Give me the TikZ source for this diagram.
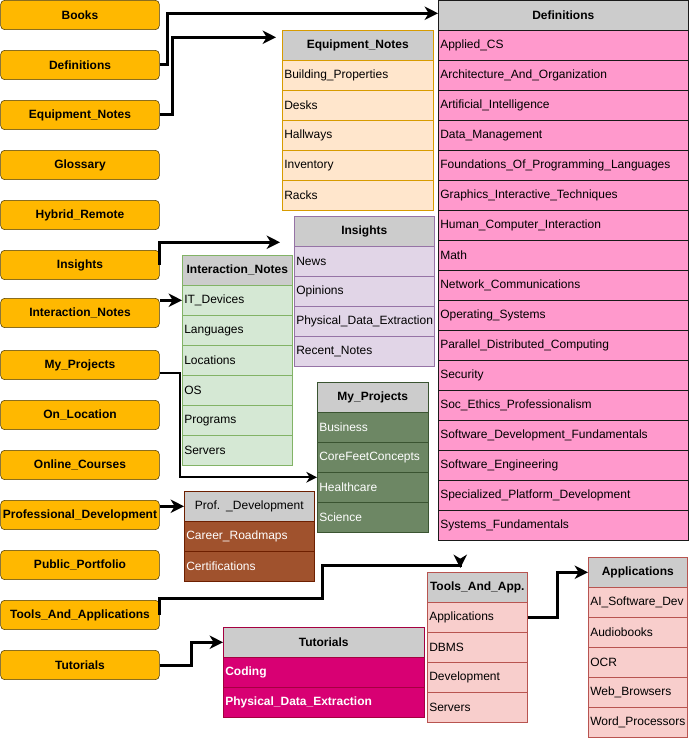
\documentclass[tikz,border=0pt]{standalone}
\usepackage{fontspec}
\setmainfont{Liberation Sans}
\usetikzlibrary{arrows.meta}

\definecolor{amber}{HTML}{FFB800}
\definecolor{amberline}{HTML}{4D3A00}
\definecolor{headgrey}{HTML}{CCCCCC}
\definecolor{defpink}{HTML}{FF99CC}
\definecolor{defline}{HTML}{1A1A1A}
\definecolor{eqfill}{HTML}{FFE6CC}
\definecolor{eqline}{HTML}{D79B00}
\definecolor{insfill}{HTML}{E1D5E7}
\definecolor{insline}{HTML}{9673A6}
\definecolor{intfill}{HTML}{D5E8D4}
\definecolor{intline}{HTML}{82B366}
\definecolor{mpfill}{HTML}{6D8764}
\definecolor{mpline}{HTML}{3A5431}
\definecolor{pdfill}{HTML}{A0522D}
\definecolor{pdline}{HTML}{6D1F00}
\definecolor{tufill}{HTML}{D80073}
\definecolor{tuline}{HTML}{A50040}
\definecolor{tafill}{HTML}{F8CECC}
\definecolor{taline}{HTML}{B85450}

\tikzset{
  topic/.style={draw=amberline, fill=amber, rounded corners=3pt, minimum width=119pt,
    minimum height=22pt, inner sep=0pt, font=\fontsize{9}{11}\selectfont\bfseries},
  tblcell/.style={draw, anchor=north west, minimum height=22.5pt, inner xsep=1.5pt,
    inner ysep=0pt, align=left, font=\fontsize{9}{11}\selectfont},
  tblhead/.style={tblcell, fill=headgrey, align=center, font=\fontsize{9}{11}\selectfont\bfseries},
  link/.style={draw, line width=2.25pt, -{Stealth[length=10pt, width=10pt, inset=3pt]}},
  defhead/.style={tblhead, draw=defline, text width=184.5pt},
  defrow/.style={tblcell, draw=defline, fill=defpink, text width=184.5pt},
  eqhead/.style={tblhead, draw=eqline, text width=110.25pt},
  eqrow/.style={tblcell, draw=eqline, fill=eqfill, text width=110.25pt},
  inshead/.style={tblhead, draw=insline, text width=102pt},
  insrow/.style={tblcell, draw=insline, fill=insfill, text width=102pt},
  inthead/.style={tblhead, draw=intline, text width=79.5pt},
  introw/.style={tblcell, draw=intline, fill=intfill, text width=79.5pt},
  mphead/.style={tblhead, draw=mpline, text width=80.25pt},
  mprow/.style={tblcell, draw=mpline, fill=mpfill, text=white, text width=80.25pt},
  pdhead/.style={tblhead, draw=pdline, text width=94.5pt, font=\fontsize{9}{11}\selectfont},
  pdrow/.style={tblcell, draw=pdline, fill=pdfill, text=white, text width=94.5pt},
  tuhead/.style={tblhead, draw=tuline, text width=147.75pt},
  turow/.style={tblcell, draw=tuline, fill=tufill, text=white, text width=147.75pt,
    font=\fontsize{9}{11}\selectfont\bfseries},
  tahead/.style={tblhead, draw=taline, text width=72pt},
  tarow/.style={tblcell, draw=taline, fill=tafill, text width=72pt},
  aphead/.style={tblhead, draw=taline, text width=71.25pt},
  aprow/.style={tblcell, draw=taline, fill=tafill, text width=71.25pt},
}

\begin{document}
\begin{tikzpicture}[x=0.75pt, y=-0.75pt]
\useasboundingbox (0,0) rectangle (689,738);

% topics
\node[topic] (books) at (80,15) {Books};
\node[topic] (defs) at (80,65) {Definitions};
\node[topic] (equip) at (80,115) {Equipment\_Notes};
\node[topic] (gloss) at (80,165) {Glossary};
\node[topic] (hybrid) at (80,215) {Hybrid\_Remote};
\node[topic] (insight) at (80,265) {Insights};
\node[topic] (inter) at (80,313) {Interaction\_Notes};
\node[topic] (myproj) at (80,365) {My\_Projects};
\node[topic] (onloc) at (80,415) {On\_Location};
\node[topic] (online) at (80,465) {Online\_Courses};
\node[topic] (profdev) at (80,515) {Professional\_Development};
\node[topic] (public) at (80,565) {Public\_Portfolio};
\node[topic] (tools) at (80,615) {Tools\_And\_Applications};
\node[topic] (tut) at (80,665) {Tutorials};

% Definitions
\node[defhead] (defH) at (438,0) {Definitions};
\node[defrow] (def1) at (438,30) {Applied\_CS};
\node[defrow] (def2) at (438,60) {Architecture\_And\_Organization};
\node[defrow] (def3) at (438,90) {Artificial\_Intelligence};
\node[defrow] (def4) at (438,120) {Data\_Management};
\node[defrow] (def5) at (438,150) {Foundations\_Of\_Programming\_Languages};
\node[defrow] (def6) at (438,180) {Graphics\_Interactive\_Techniques};
\node[defrow] (def7) at (438,210) {Human\_Computer\_Interaction};
\node[defrow] (def8) at (438,240) {Math};
\node[defrow] (def9) at (438,270) {Network\_Communications};
\node[defrow] (def10) at (438,300) {Operating\_Systems};
\node[defrow] (def11) at (438,330) {Parallel\_Distributed\_Computing};
\node[defrow] (def12) at (438,360) {Security};
\node[defrow] (def13) at (438,390) {Soc\_Ethics\_Professionalism};
\node[defrow] (def14) at (438,420) {Software\_Development\_Fundamentals};
\node[defrow] (def15) at (438,450) {Software\_Engineering};
\node[defrow] (def16) at (438,480) {Specialized\_Platform\_Development};
\node[defrow] (def17) at (438,510) {Systems\_Fundamentals};

% Equipment_Notes
\node[eqhead] (eqH) at (282,30) {Equipment\_Notes};
\node[eqrow] (eq1) at (282,60) {Building\_Properties};
\node[eqrow] (eq2) at (282,90) {Desks};
\node[eqrow] (eq3) at (282,120) {Hallways};
\node[eqrow] (eq4) at (282,150) {Inventory};
\node[eqrow] (eq5) at (282,180) {Racks};

% Insights
\node[inshead] (insH) at (294,216) {Insights};
\node[insrow] (ins1) at (294,246) {News};
\node[insrow] (ins2) at (294,276) {Opinions};
\node[insrow] (ins3) at (294,306) {Physical\_Data\_Extraction};
\node[insrow] (ins4) at (294,336) {Recent\_Notes};

% Interaction_Notes
\node[inthead] (intH) at (182,255) {Interaction\_Notes};
\node[introw] (int1) at (182,285) {IT\_Devices};
\node[introw] (int2) at (182,315) {Languages};
\node[introw] (int3) at (182,345) {Locations};
\node[introw] (int4) at (182,375) {OS};
\node[introw] (int5) at (182,405) {Programs};
\node[introw] (int6) at (182,435) {Servers};

% My_Projects
\node[mphead] (mpH) at (317,382) {My\_Projects};
\node[mprow] (mp1) at (317,412) {Business};
\node[mprow] (mp2) at (317,442) {CoreFeetConcepts};
\node[mprow] (mp3) at (317,472) {Healthcare};
\node[mprow] (mp4) at (317,502) {Science};

% Prof. _Development
\node[pdhead] (pdH) at (184,491) {Prof. \_Development};
\node[pdrow] (pd1) at (184,521) {Career\_Roadmaps};
\node[pdrow] (pd2) at (184,551) {Certifications};

% Tutorials
\node[tuhead] (tuH) at (223,627) {Tutorials};
\node[turow] (tu1) at (223,657) {Coding};
\node[turow] (tu2) at (223,687) {Physical\_Data\_Extraction};

% Tools_And_App.
\node[tahead] (taH) at (427,572) {Tools\_And\_App.};
\node[tarow] (ta1) at (427,602) {Applications};
\node[tarow] (ta2) at (427,632) {DBMS};
\node[tarow] (ta3) at (427,662) {Development};
\node[tarow] (ta4) at (427,692) {Servers};

% Applications
\node[aphead] (apH) at (588,557) {Applications};
\node[aprow] (ap1) at (588,587) {AI\_Software\_Dev};
\node[aprow] (ap2) at (588,617) {Audiobooks};
\node[aprow] (ap3) at (588,647) {OCR};
\node[aprow] (ap4) at (588,677) {Web\_Browsers};
\node[aprow] (ap5) at (588,707) {Word\_Processors};

% links
\path[link] (defs.east) -- ++(8,0) |- ([yshift=1.5pt]defH.west);
\path[link] (equip.east) -- ++(13,0) |- ([xshift=-4.5pt,yshift=6pt]eqH.west);
\path[link] (insight.east) |- ([xshift=-10.5pt,yshift=-8.25pt]insH.west);
\path[link] (inter.east |- int1.west) -- (int1.west);
\path[draw, line width=1.5pt, -{Stealth[length=8pt, width=8pt, inset=2.5pt]}]
  ([yshift=-6pt]myproj.east) -- ++(20,0) |- ([yshift=7.5pt]mp3.west);
\path[link] (profdev.east |- pdH.west) -- (pdH.west);
\path[link] (tools.east) -- ++(0,-17) -| ++(163,-33) -| ([xshift=-12.75pt,yshift=3pt]taH.north);
\path[link] (ta1.east) -- ++(30,0) |- (apH.west);
\path[link] (tut.east) -- ++(32,0) |- (tuH.west);
\end{tikzpicture}
\end{document}
